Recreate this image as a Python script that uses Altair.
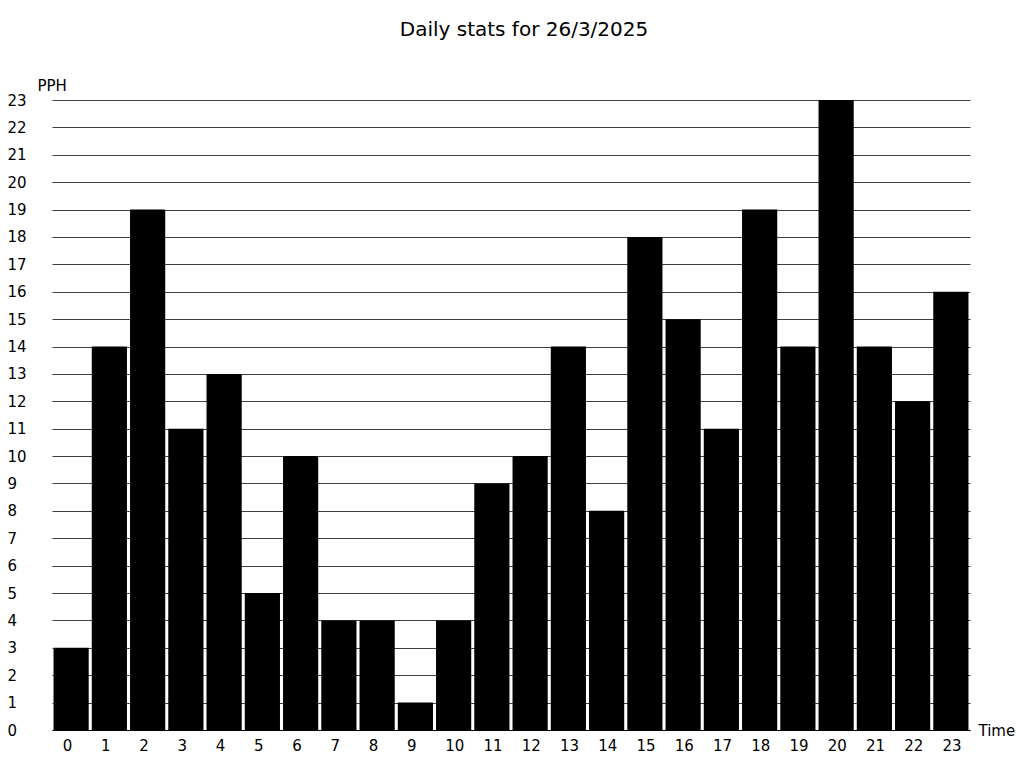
import altair as alt
import pandas as pd

hours = list(range(24))
pph = [3, 14, 19, 11, 13, 5, 10, 4, 4, 1, 4, 9, 10, 14, 8, 18, 15, 11, 19, 14, 23, 14, 12, 16]
y_ticks = list(range(24))

df = pd.DataFrame({"hour": hours, "pph": pph})

chart = alt.Chart(df).mark_bar(color="black").encode(
    x=alt.X("hour:O", sort=hours,
            scale=alt.Scale(paddingInner=0.08, paddingOuter=0.04),
            axis=alt.Axis(title="Time", labelAngle=0, ticks=False, tickSize=0,
                          domain=True, domainColor="black", domainWidth=1,
                          labelAlign="left", labelOffset=-8.5,
                          labelPadding=8, labelFontSize=15, labelFont="DejaVu Sans",
                          labelColor="black", titleFont="DejaVu Sans", titleFontSize=15,
                          titleFontWeight="normal", titleColor="black",
                          titleAngle=0, titleAlign="left", titleBaseline="middle",
                          titleX=926, titleY=0, grid=False)),
    y=alt.Y("pph:Q",
            scale=alt.Scale(domain=[0, 23], nice=False, zero=True),
            axis=alt.Axis(title="PPH", values=y_ticks, ticks=False, tickSize=0, domain=False,
                          labelAlign="left", labelPadding=45, labelFontSize=15,
                          labelFont="DejaVu Sans", labelColor="black", labelBaseline="middle",
                          grid=True, gridColor="black", gridWidth=1, gridOpacity=0.75,
                          titleFont="DejaVu Sans", titleFontSize=15, titleFontWeight="normal",
                          titleColor="black", titleAngle=0, titleAlign="left",
                          titleBaseline="bottom", titleX=-15, titleY=-7)),
).properties(
    width=918,
    height=630,
    title=alt.TitleParams("Daily stats for 26/3/2025", font="DejaVu Sans", fontSize=20,
                          fontWeight="normal", color="black", anchor="middle",
                          frame="group", dx=13, offset=38),
    padding={"left": 44, "top": 92, "right": 46, "bottom": 26},
    autosize="none",
).configure_view(stroke=None)

chart.save("out.html", embed_options={"renderer": "svg", "actions": False})
